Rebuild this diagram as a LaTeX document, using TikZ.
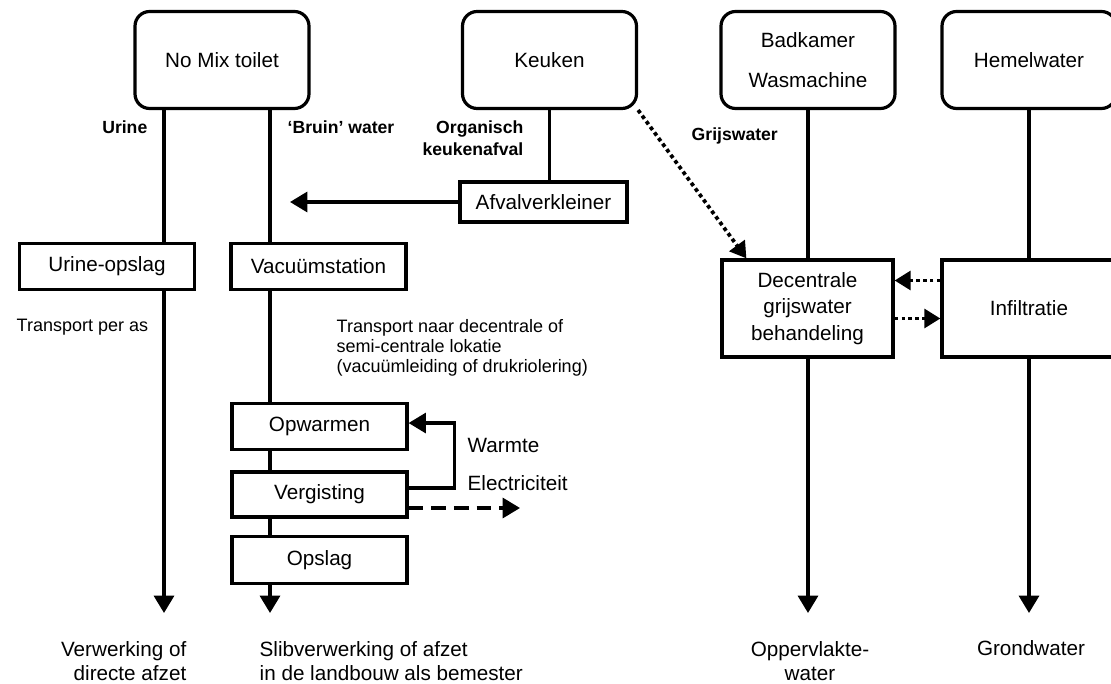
\documentclass[tikz,border=0pt]{standalone}
\usepackage{fontspec}
\setmainfont{Liberation Sans}
\usetikzlibrary{arrows.meta}

\begin{document}
\begin{tikzpicture}[x=0.75pt, y=-0.75pt,
    bron/.style ={draw, line width=2.4pt, rounded corners=11pt, minimum width=130.5pt, minimum height=72.75pt, inner sep=0pt, align=center, font=\fontsize{15.5}{18}\selectfont},
    stap/.style ={draw, line width=2.4pt, minimum width=131.25pt, minimum height=35pt, inner sep=0pt, align=center, font=\fontsize{15.5}{18}\selectfont},
    stroom/.style ={font=\bfseries\fontsize{13.2}{16.5}\selectfont},
    uitleg/.style ={font=\fontsize{13.5}{15}\selectfont, align=left},
    eind/.style ={font=\fontsize{15.5}{17.5}\selectfont},
    leiding/.style ={line width=2.4pt},
    pijl/.style ={line width=2.4pt, -{Triangle[width=15pt, length=13pt]}},
    grijs/.style ={line width=2.8pt, dash pattern=on 2.8pt off 2.4pt, -{Triangle[width=14pt, length=12pt]}},
    elek/.style ={line width=2.4pt, dash pattern=on 11pt off 6pt, -{Triangle[width=15pt, length=13pt]}}]
   \useasboundingbox (0,0) rectangle (1111,684);
   \clip (0,0) rectangle (1111,684);
   \node[bron] (toilet) at (222,60) {No Mix toilet};
   \node[bron] (keuken) at (549.5,60) {Keuken};
   \node[bron, font=\fontsize{15.5}{30}\selectfont] (bad) at (808,60) {Badkamer\\Wasmachine};
   \node[bron] (hemel) at (1029,60) {Hemelwater};
   \node[stap, minimum width=125.25pt, minimum height=30pt] (afval) at (543.5,202) {Afvalverkleiner};
   \node[stap] (urine) at (107,266.5) {Urine-opslag};
   \node[stap] (vacuum) at (318.5,266.5) {Vacuümstation};
   \node[stap] (opwarmen) at (319.5,426.5) {Opwarmen};
   \node[stap, minimum height=33.75pt] (vergisting) at (319.5,494.5) {Vergisting};
   \node[stap] (opslag) at (319.5,560) {Opslag};
   \node[stap, minimum width=128.25pt, minimum height=72.75pt, font=\fontsize{15.5}{20}\selectfont] (decentraal) at (807.5,308.5) {Decentrale\\grijswater\\behandeling};
   \node[stap, minimum width=130.5pt, minimum height=72.75pt] (infiltratie) at (1029,308.5) {Infiltratie};
   \node[stroom, anchor=east] (lurine) at (152,127) {Urine};
   \node[stroom, anchor=west] (lbruin) at (283,127) {‘Bruin’ water};
   \node[stroom, anchor=east, align=right] (lorganisch) at (528,138) {Organisch\\keukenafval};
   \node[stroom, anchor=west] (lgrijs) at (687,136) {Grijswater};
   \node[uitleg, anchor=west] (lperas) at (12,327) {Transport per as};
   \node[uitleg, anchor=west] (lnaar) at (332,348) {Transport naar decentrale of\\semi-centrale lokatie\\(vacuümleiding of drukriolering)};
   \node[eind, anchor=west] (lwarmte) at (463,445) {Warmte};
   \node[eind, anchor=west] (lelek) at (463,483) {Electriciteit};
   \node[eind, anchor=east, align=right] (lverwerking) at (191,661) {Verwerking of\\directe afzet};
   \node[eind, anchor=west, align=left] (lslib) at (255,661) {Slibverwerking of afzet\\in de landbouw als bemester};
   \node[eind, align=center] (lopp) at (810,661) {Oppervlakte-\\water};
   \node[eind] (lgrond) at (1031,648) {Grondwater};
   \coordinate (urine end) at (164,613);
   \coordinate (bruin end) at (270,613);
   \coordinate (bad end) at (808,613);
   \coordinate (hemel end) at (1029,613);
   \coordinate (afval end) at (290,202);
   \coordinate (elek end) at (520,508);
   \draw[leiding] (toilet.south -| urine end) to (urine.north -| urine end);
   \draw[pijl] (urine.south -| urine end) to (urine end);
   \draw[leiding] (toilet.south -| bruin end) to (vacuum.north -| bruin end);
   \draw[leiding] (vacuum.south -| bruin end) to (opwarmen.north -| bruin end);
   \draw[leiding] (opwarmen.south -| bruin end) to (vergisting.north -| bruin end);
   \draw[leiding] (vergisting.south -| bruin end) to (opslag.north -| bruin end);
   \draw[pijl] (opslag.south -| bruin end) to (bruin end);
   \draw[leiding] (keuken.south) to (keuken.south |- afval.north);
   \draw[pijl] (afval.west) to (afval end);
   \draw[pijl] ([yshift=4.9pt]vergisting.east) -- ++(46,0) |- ([yshift=2.6pt]opwarmen.east);
   \draw[elek] (vergisting.east |- elek end) to (elek end);
   \draw[leiding] (bad.south) to (decentraal.north -| bad.south);
   \draw[pijl] (decentraal.south -| bad end) to (bad end);
   \draw[leiding] (hemel.south) to (infiltratie.north);
   \draw[pijl] (infiltratie.south) to (hemel end);
   \draw[grijs] (keuken.south east) to ([xshift=19.5pt]decentraal.north west);
   \draw[grijs] ([yshift=21pt]infiltratie.west) to ([yshift=21pt]decentraal.east);
   \draw[grijs] ([yshift=-7.5pt]decentraal.east) to ([yshift=-7.5pt]infiltratie.west);
\end{tikzpicture}
\end{document}
